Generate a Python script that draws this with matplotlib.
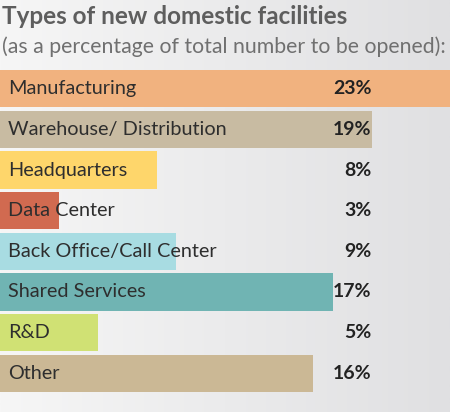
import numpy as np
import matplotlib.pyplot as plt
from matplotlib.colors import LinearSegmentedColormap

# Data
categories = ["Manufacturing", "Warehouse/ Distribution", "Headquarters", "Data Center",
              "Back Office/Call Center", "Shared Services", "R&D", "Other"]
values = [23, 19, 8, 3, 9, 17, 5, 16]
colors = ["#F1B27F", "#C8BBA2", "#FED66B", "#D16A50", "#A8DCE2", "#70B4B3", "#D0E174", "#CBB895"]

W, H = 450, 412
fig = plt.figure(figsize=(W / 100, H / 100), dpi=100)

# background gradient (white-ish left to light grey right)
bg = fig.add_axes([0, 0, 1, 1])
grad = np.linspace(0, 1, 256).reshape(1, -1)
bg.imshow(grad, aspect="auto", extent=[0, 1, 0, 1],
          cmap=LinearSegmentedColormap.from_list("g", ["#F6F6F6", "#E0E0E2"]))
bg.set_axis_off()

fig.text(2 / W, 1 - 17 / H, "Types of new domestic facilities", fontsize=17.5, fontweight="bold",
         color="#5E5E5E", family="Lato", va="center", ha="left")
fig.text(2 / W, 1 - 47 / H, "(as a percentage of total number to be opened):", fontsize=15.3,
         fontweight="normal", color="#707070", family="Lato", va="center", ha="left")

ax = fig.add_axes([0, 20 / H, 1, 322 / H])
ax.patch.set_alpha(0)
y = np.arange(len(categories))
ax.barh(y, values, height=0.92, color=colors, edgecolor="none")
ax.set_xlim(0, 23)
ax.set_ylim(7.46, -0.46)
ax.set_axis_off()

for i, (cat, v) in enumerate(zip(categories, values)):
    ax.text(0.4, i, cat, fontsize=14.3, color="#2E2E2E", family="Lato",
            va="center", ha="left")
    ax.text(19.0, i, f"{v}%", fontsize=14, fontweight="bold", color="#222222",
            family="Lato", va="center", ha="right")

fig.savefig("out.png", dpi=100)
